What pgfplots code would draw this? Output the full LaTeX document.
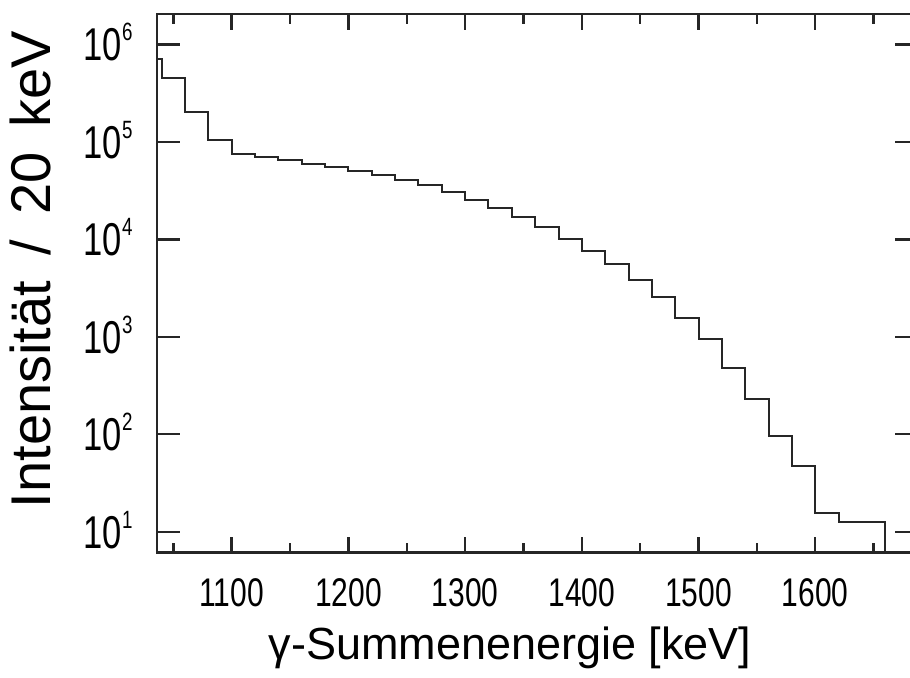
\documentclass[border=0pt]{standalone}
\usepackage{pgfplots}
\pgfplotsset{compat=1.18}
\usepackage{fontspec}
\setmainfont{Liberation Sans}
\newfontfamily\cond[FakeStretch=0.75]{Liberation Sans}
\newcommand{\pw}[1]{{\cond\fontsize{23}{23}\selectfont 10\raisebox{10pt}{\fontsize{12.5}{12.5}\selectfont #1}}}
\begin{document}
\begin{tikzpicture}
\begin{axis}[
  scale only axis, width=380.5pt, height=269.3pt,
  xmin=1036, xmax=1688, ymode=log, ymin=6.09, ymax=2.05e6,
  axis line style={draw=black!85, line width=1.3pt},
  every tick/.style={draw=black!85, line width=1.2pt},
  xtick=\empty,
  ytick={10,100,1000,10000,100000,1000000},
  yticklabels={\pw{1},\pw{2},\pw{3},\pw{4},\pw{5},\pw{6}},
  yminorticks=false,
  major tick length=11.5pt,
  yticklabel style={anchor=base east, inner sep=0pt, xshift=-12pt, yshift=-8.2pt},
  ylabel={\fontsize{28}{28}\selectfont Intensität\hspace{0.45em}/\hspace{0.45em}20\hspace{0.45em}keV},
  ylabel style={at={(axis description cs:-0.1656,0.526)}, anchor=center},
]
\addplot[const plot mark left, draw=black!85, line width=1pt] coordinates {
(1020,7.18e5) (1040,4.48e5) (1060,2.05e5) (1080,1.05e5) (1100,7.5e4)
(1120,6.93e4) (1140,6.5e4) (1160,6.0e4) (1180,5.55e4) (1200,5.0e4)
(1220,4.56e4) (1240,4.05e4) (1260,3.6e4) (1280,3.03e4) (1300,2.53e4)
(1320,2.08e4) (1340,1.68e4) (1360,1.33e4) (1380,1.0e4) (1400,7640)
(1420,5530) (1440,3820) (1460,2580) (1480,1570) (1500,942)
(1520,474) (1540,230) (1560,96.6) (1580,47.2) (1600,15.5)
(1620,12.7) (1640,12.7) (1660,1)
};
\end{axis}
\begin{axis}[
  scale only axis, width=380.5pt, height=269.3pt,
  xmin=1036, xmax=1688, ymode=log, ymin=6.09, ymax=2.05e6,
  axis line style={draw=black!85, line width=1.3pt},
  every tick/.style={draw=black!85, line width=1.2pt},
  ytick=\empty, yminorticks=false,
  xtick={1100,1200,1300,1400,1500,1600},
  xticklabels={1100,1200,1300,1400,1500,1600},
  minor xtick={1050,1150,1250,1350,1450,1550,1650},
  major tick length=8pt, minor tick length=5pt,
  xticklabel style={font=\cond\fontsize{20}{20}\selectfont, anchor=base, inner sep=0pt, yshift=-26.8pt},
  xlabel={\fontsize{22.5}{22.5}\selectfont γ-Summenenergie [keV]},
  xlabel style={at={(axis description cs:0.4639,-0.1975)}, anchor=base},
]
\addplot[draw=none] coordinates {(1100,100)};
\end{axis}
\pgfresetboundingbox
\path[use as bounding box] (-78.5pt,-62.15pt) rectangle (376.5pt,276.35pt);
\end{tikzpicture}
\end{document}
